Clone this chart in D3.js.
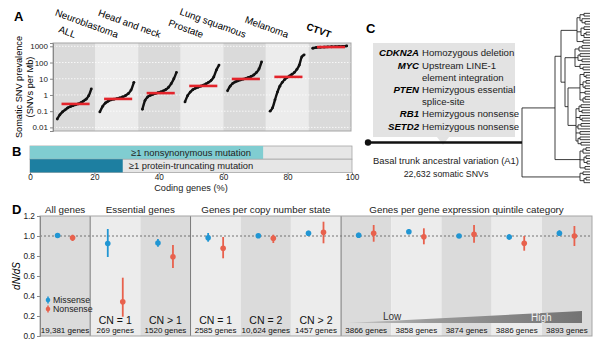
<!DOCTYPE html>
<html>
<head>
<meta charset="utf-8">
<script src="https://cdn.jsdelivr.net/npm/d3@7"></script>
<style>
body { margin: 0; background: #fff; }
svg { font-family: "Liberation Sans", Arial, sans-serif; }
</style>
</head>
<body>
<svg id="fig" width="601" height="346"></svg>
<script>
// ---- panel A: somatic SNV prevalence per sample, sorted within each tumour type
var cancerTypes = ["ALL", "Neuroblastoma", "Head and neck", "Prostate", "Lung squamous", "Melanoma", "CTVT"];
var snvSorted = [
    [0.033, 0.06, 0.09, 0.12, 0.16, 0.19, 0.22, 0.25, 0.28, 0.33, 0.42, 0.55, 0.9, 2.4],
    [0.09, 0.2, 0.32, 0.42, 0.5, 0.55, 0.6, 0.66, 0.75, 0.9, 1.2, 2.0, 6.0],
    [0.13, 0.45, 0.75, 0.95, 1.1, 1.25, 1.4, 1.55, 1.8, 2.2, 3.0, 5.0, 10, 25],
    [0.37, 0.9, 1.5, 2.1, 2.6, 3.0, 3.5, 4.0, 4.8, 6, 8, 13, 35, 70],
    [1.8, 3.5, 5.2, 6.5, 7.5, 8.5, 9.5, 10.5, 12, 14, 17, 24, 40, 110],
    [0.1, 0.16, 0.5, 1.5, 3.5, 6, 9, 12, 15, 19, 25, 38, 70, 220, 300],
    [760, 850, 880, 900, 920, 940, 960, 980, 1000, 1050]
];
var snvMedian = [0.28, 0.57, 1.3, 3.6, 9.7, 13, 900];
var snvTicks = [0.01, 0.1, 1, 10, 100, 1000];

// ---- panel B: share of coding genes hit
var codingLabels = ["\u22651 nonsynonymous mutation", "\u22651 protein-truncating mutation"];
var codingPct = [72.4, 28.8];
var codingTicks = [0, 20, 40, 60, 80, 100];

// ---- panel C: trunk drivers and phylogeny
var driverGenes = ["CDKN2A", "MYC", "PTEN", "RB1", "SETD2"];
var driverEvents = [
    ["Homozygous deletion"],
    ["Upstream LINE-1", "element integration"],
    ["Hemizygous essential", "splice-site"],
    ["Hemizygous nonsense"],
    ["Hemizygous nonsense"]
];
var cladeT  = "(((x,x):4,(x,(x,x):3):2):3,((x,x):3,((x,x):2,x):3):4,(x,x):6)";
var cladeM1 = "(((x,x):3,x):4,((x,x):2,(x,x):4):3,(x,(x,x):3):5)";
var cladeM2 = "((x,(x,x):2):4,((x,x):3,(x,x):2):3,(x,x):5,((x,x):2,x):3)";
var cladeM3 = "(((x,x):2,(x,x):3):3,(x,(x,x):2):4,((x,x):3,x):2,(x,x):4,((x,x):2,(x,x):3):2)";
var cladeL1 = "(((x,x):3,x):3,((x,x):2,(x,x):3):4,(x,x):5)";
var cladeL2 = "((x,x):3,((x,x):2,x):4)";
var treeNewick = "(((" + cladeT + ":16,(" + cladeM1 + ":10,(" + cladeM2 + ":12," + cladeM3 + ":8):3):4):6," +
    cladeL1 + ":25):33," + cladeL2 + ":58)";

// ---- panel D: dN/dS
var dndsGroups = ["All genes", "Essential genes", "Genes per copy number state", "Genes per gene expression quintile category"];
var dndsGroupSize = [1, 2, 3, 5];
var dndsCategory = ["", "CN = 1", "CN > 1", "CN = 1", "CN = 2", "CN > 2", "", "", "", "", ""];
var dndsGenes = ["19,381 genes", "269 genes", "1520 genes", "2585 genes", "10,624 genes", "1457 genes",
    "3866 genes", "3858 genes", "3874 genes", "3886 genes", "3893 genes"];
var missense   = [1.005, 0.925, 0.93, 0.983, 1.003, 1.027, 1.007, 1.043, 1.0, 0.99, 1.027];
var missenseLo = [0.995, 0.79, 0.893, 0.943, 0.99, 1.0, 0.98, 1.02, 0.98, 0.963, 1.0];
var missenseHi = [1.015, 1.07, 0.97, 1.03, 1.017, 1.053, 1.033, 1.07, 1.02, 1.017, 1.057];
var nonsense   = [0.983, 0.343, 0.793, 0.877, 0.977, 1.037, 1.027, 0.993, 1.017, 0.927, 1.0];
var nonsenseLo = [0.95, 0.193, 0.68, 0.777, 0.93, 0.927, 0.943, 0.917, 0.933, 0.853, 0.9];
var nonsenseHi = [1.013, 0.583, 0.91, 0.99, 1.013, 1.143, 1.11, 1.077, 1.11, 1.0, 1.1];
var dndsTicks = [0, 0.2, 0.4, 0.6, 0.8, 1.0, 1.2];

var BLUE = "#2196d3", RED = "#e8614d";
var svg = d3.select("#fig");

function panelLetter(t, x, y) {
    svg.append("text").attr("x", x).attr("y", y).attr("font-size", 13).attr("font-weight", "bold").text(t);
}
function styleAxis(g, size) {
    g.selectAll(".domain").attr("stroke", "#888");
    g.selectAll(".tick line").attr("stroke", "#888");
    g.selectAll(".tick text").attr("fill", "#222").attr("font-size", size);
}

// =================== A ===================
panelLetter("A", 14, 21);
var aTop = 43, aBottom = 131;
var xA = d3.scaleBand().domain(cancerTypes).range([53, 351]);
var yA = d3.scaleLog().domain([0.006, 1600]).range([aBottom, aTop]);
var gA = svg.append("g");

gA.selectAll("rect.band").data(cancerTypes).enter().append("rect")
    .attr("class", "band")
    .attr("x", function(d) { return xA(d); })
    .attr("y", aTop)
    .attr("width", xA.bandwidth())
    .attr("height", aBottom - aTop)
    .attr("fill", function(d, i) { return i % 2 ? "#ececec" : "#dadada"; });

gA.selectAll("line.grid").data(snvTicks).enter().append("line")
    .attr("x1", 53).attr("x2", 351)
    .attr("y1", function(d) { return yA(d); }).attr("y2", function(d) { return yA(d); })
    .attr("stroke", "#fff").attr("stroke-width", 0.8).attr("stroke-dasharray", "1.5,1.5");

var line = d3.line().curve(d3.curveMonotoneX);
snvSorted.forEach(function(vals, i) {
    var x0 = xA(cancerTypes[i]), bw = xA.bandwidth();
    var rank = d3.scaleLinear().domain([0, vals.length - 1]).range([x0 + bw * 0.1, x0 + bw * 0.9]);
    var pts = vals.map(function(v, k) { return [rank(k), yA(v)]; });
    gA.append("path").attr("d", line(pts))
        .attr("fill", "none").attr("stroke", "#111").attr("stroke-width", 2.4);
    gA.selectAll(null).data(pts).enter().append("circle")
        .attr("cx", function(d) { return d[0]; }).attr("cy", function(d) { return d[1]; })
        .attr("r", 1.4).attr("fill", "#111");
    gA.append("line")
        .attr("x1", x0 + bw * 0.2).attr("x2", x0 + bw * 0.86)
        .attr("y1", yA(snvMedian[i])).attr("y2", yA(snvMedian[i]))
        .attr("stroke", "#e3242b").attr("stroke-width", 2.6);
});

gA.append("rect").attr("x", 53).attr("y", aTop).attr("width", 298).attr("height", aBottom - aTop)
    .attr("fill", "none").attr("stroke", "#a5a5a5");

var axA = gA.append("g").attr("transform", "translate(53,0)")
    .call(d3.axisLeft(yA).tickValues(snvTicks).tickFormat(function(d) { return d; }).tickSize(3).tickPadding(2));
styleAxis(axA, 8);

gA.selectAll("text.ctype").data(cancerTypes).enter().append("text")
    .attr("class", "ctype")
    .attr("text-anchor", "end")
    .attr("font-size", 9.8)
    .attr("font-weight", function(d) { return d === "CTVT" ? "bold" : null; })
    .attr("transform", function(d) { return "translate(" + (xA(d) + xA.bandwidth() / 2) + ",38) rotate(20)"; })
    .text(function(d) { return d; });

gA.append("text").attr("transform", "translate(22,87) rotate(-90)")
    .attr("text-anchor", "middle").attr("font-size", 9.2).text("Somatic SNV prevalence");
gA.append("text").attr("transform", "translate(33,87) rotate(-90)")
    .attr("text-anchor", "middle").attr("font-size", 9.2).text("(SNVs per Mb)");

// =================== B ===================
panelLetter("B", 12, 156);
var xB = d3.scaleLinear().domain([0, 100]).range([30, 352]);
var gB = svg.append("g");
var bTop = 146, bH = 13.2;
codingPct.forEach(function(p, i) {
    var y = bTop + i * bH;
    gB.append("rect").attr("x", xB(0)).attr("y", y).attr("width", xB(100) - xB(0)).attr("height", bH)
        .attr("fill", "#e6e6e6").attr("stroke", "#a5a5a5").attr("stroke-width", 0.8);
    gB.append("rect").attr("x", xB(0)).attr("y", y).attr("width", xB(p) - xB(0)).attr("height", bH)
        .attr("fill", i === 0 ? "#80cdd1" : "#1d7fa1");
    gB.append("text").attr("x", xB(50)).attr("y", y + bH / 2 + 3.4)
        .attr("text-anchor", "middle").attr("font-size", 9.4).attr("fill", "#222")
        .text(codingLabels[i]);
});
var axB = gB.append("g").attr("transform", "translate(0," + (bTop + 2 * bH) + ")")
    .call(d3.axisBottom(xB).tickValues(codingTicks).tickSize(2).tickPadding(0));
axB.select(".domain").remove();
styleAxis(axB, 8.2);
gB.append("text").attr("x", xB(50)).attr("y", 191).attr("text-anchor", "middle")
    .attr("font-size", 9.2).attr("fill", "#222").text("Coding genes (%)");

// =================== C ===================
panelLetter("C", 366, 33);
var gC = svg.append("g");
gC.append("path")
    .attr("d", "M373,43H515V137H449L443,145L437,137H373Z")
    .attr("fill", "#e3e3e3");

var lineY = [56, 69, 93, 117, 130];
driverGenes.forEach(function(g, i) {
    gC.append("text").attr("x", 419).attr("y", lineY[i]).attr("text-anchor", "end")
        .attr("font-size", 9.6).attr("font-weight", "bold").attr("font-style", "italic").text(g);
    driverEvents[i].forEach(function(t, k) {
        gC.append("text").attr("x", 422).attr("y", lineY[i] + k * 11.5)
            .attr("font-size", 9.6).attr("fill", "#222").text(t);
    });
});

// phylogeny: parse the newick string, leaves evenly spaced, tips aligned
function parseNewick(s) {
    var i = 0;
    function node() {
        var n = { len: 0 };
        if (s[i] === "(") {
            i++;
            n.children = [node()];
            while (s[i] === ",") { i++; n.children.push(node()); }
            i++;
        } else {
            while (s[i] && ",):".indexOf(s[i]) < 0) i++;
        }
        if (s[i] === ":") {
            i++;
            var j = i;
            while (s[i] && ",)".indexOf(s[i]) < 0) i++;
            n.len = +s.slice(j, i);
        }
        return n;
    }
    return node();
}
var treeRoot = d3.hierarchy(parseNewick(treeNewick));
d3.cluster().size([172, 1]).separation(function() { return 1; })(treeRoot);
var treeX = d3.scaleLinear().domain([0, 68]).range([522, 590]);
treeRoot.eachBefore(function(d) {
    d.dist = d.parent ? d.parent.dist + d.data.len : 0;
    if (!d.children) d.dist = 68;
    d.px = treeX(d.dist);
    d.py = 12 + d.x;
});
var gT = gC.append("g").attr("stroke", "#1a1a1a").attr("stroke-width", 0.85);
treeRoot.descendants().forEach(function(d) {
    if (d.parent) {
        gT.append("line").attr("x1", d.parent.px).attr("x2", d.px).attr("y1", d.py).attr("y2", d.py);
    }
    if (d.children) {
        var c = d.children;
        gT.append("line").attr("x1", d.px).attr("x2", d.px)
            .attr("y1", c[0].py).attr("y2", c[c.length - 1].py);
    }
});
gC.append("line").attr("x1", 368).attr("x2", treeRoot.px)
    .attr("y1", treeRoot.py).attr("y2", treeRoot.py)
    .attr("stroke", "#111").attr("stroke-width", 2.4);
gC.append("circle").attr("cx", 368).attr("cy", treeRoot.py).attr("r", 3.2).attr("fill", "#111");
gC.append("text").attr("x", 446).attr("y", 164).attr("text-anchor", "middle")
    .attr("font-size", 9.4).attr("fill", "#222").text("Basal trunk ancestral variation (A1)");
gC.append("text").attr("x", 446).attr("y", 177).attr("text-anchor", "middle")
    .attr("font-size", 8.8).attr("fill", "#222").text("22,632 somatic SNVs");

// =================== D ===================
panelLetter("D", 12, 214);
var dTop = 216, dBottom = 336, dLeft = 40, dRight = 592;
var cols = d3.range(dndsGenes.length);
var xD = d3.scaleBand().domain(cols).range([dLeft, dRight]);
var yD = d3.scaleLinear().domain([0, 1.2]).range([dBottom, dTop]);
var gD = svg.append("g");

gD.selectAll("rect.col").data(cols).enter().append("rect")
    .attr("x", function(d) { return xD(d); }).attr("y", dTop)
    .attr("width", xD.bandwidth()).attr("height", dBottom - dTop)
    .attr("fill", function(d) { return d % 2 ? "#ececec" : "#dbdbdb"; });

// low -> high expression wedge
var grad = svg.append("defs").append("linearGradient").attr("id", "wedge");
grad.append("stop").attr("offset", "0%").attr("stop-color", "#c8c8c8");
grad.append("stop").attr("offset", "35%").attr("stop-color", "#9a9a9a");
grad.append("stop").attr("offset", "100%").attr("stop-color", "#737373");
var wx0 = xD(6) + 6, wx1 = xD(10) + xD.bandwidth() - 10;
gD.append("path").attr("d", "M" + wx0 + ",323L" + wx1 + ",311L" + wx1 + ",323Z").attr("fill", "url(#wedge)");
gD.append("text").attr("x", 383).attr("y", 320).attr("font-size", 10).attr("fill", "#333").text("Low");
gD.append("text").attr("x", 531).attr("y", 321).attr("font-size", 10).attr("fill", "#f2f2f2").text("High");

gD.append("line").attr("x1", dLeft).attr("x2", dRight).attr("y1", yD(1)).attr("y2", yD(1))
    .attr("stroke", "#555").attr("stroke-width", 0.8).attr("stroke-dasharray", "2,2");

// group separators and titles
var start = 0;
dndsGroups.forEach(function(g, i) {
    var x0 = xD(start), x1 = xD(start + dndsGroupSize[i] - 1) + xD.bandwidth();
    gD.append("text").attr("x", (x0 + x1) / 2).attr("y", 213).attr("text-anchor", "middle")
        .attr("font-size", 9.8).attr("fill", "#222").text(g);
    if (i > 0) {
        gD.append("line").attr("x1", x0).attr("x2", x0).attr("y1", dTop).attr("y2", dBottom)
            .attr("stroke", "#7a7a7a").attr("stroke-width", 1);
    }
    start += dndsGroupSize[i];
});
gD.append("rect").attr("x", dLeft).attr("y", dTop).attr("width", dRight - dLeft).attr("height", dBottom - dTop)
    .attr("fill", "none").attr("stroke", "#a5a5a5");

function drawEstimates(vals, lo, hi, dx, color) {
    var g = gD.append("g");
    g.selectAll("line").data(cols).enter().append("line")
        .attr("x1", function(d) { return xD(d) + xD.bandwidth() / 2 + dx; })
        .attr("x2", function(d) { return xD(d) + xD.bandwidth() / 2 + dx; })
        .attr("y1", function(d) { return yD(lo[d]); })
        .attr("y2", function(d) { return yD(hi[d]); })
        .attr("stroke", color).attr("stroke-width", 1.8);
    g.selectAll("circle").data(cols).enter().append("circle")
        .attr("cx", function(d) { return xD(d) + xD.bandwidth() / 2 + dx; })
        .attr("cy", function(d) { return yD(vals[d]); })
        .attr("r", 2.8).attr("fill", color);
}
drawEstimates(missense, missenseLo, missenseHi, -7.5, BLUE);
drawEstimates(nonsense, nonsenseLo, nonsenseHi, 7.5, RED);

gD.selectAll("text.cat").data(cols).enter().append("text")
    .attr("x", function(d) { return xD(d) + xD.bandwidth() / 2; }).attr("y", 324)
    .attr("text-anchor", "middle").attr("font-size", 10.5).attr("fill", "#111")
    .text(function(d) { return dndsCategory[d]; });
gD.selectAll("text.genes").data(cols).enter().append("text")
    .attr("x", function(d) { return xD(d) + xD.bandwidth() / 2; }).attr("y", 333)
    .attr("text-anchor", "middle").attr("font-size", 8).attr("fill", "#111")
    .text(function(d) { return dndsGenes[d]; });

// legend
[["Missense", BLUE], ["Nonsense", RED]].forEach(function(l, i) {
    var y = 300 + i * 9;
    gD.append("line").attr("x1", 48).attr("x2", 48).attr("y1", y - 3.5).attr("y2", y + 3.5)
        .attr("stroke", l[1]).attr("stroke-width", 1.5);
    gD.append("circle").attr("cx", 48).attr("cy", y).attr("r", 2.3).attr("fill", l[1]);
    gD.append("text").attr("x", 53).attr("y", y + 3).attr("font-size", 8.8).attr("fill", "#222").text(l[0]);
});

var axD = gD.append("g").attr("transform", "translate(" + dLeft + ",0)")
    .call(d3.axisLeft(yD).tickValues(dndsTicks).tickFormat(d3.format(".1f")).tickSize(3).tickPadding(2));
styleAxis(axD, 8.3);
gD.append("text").attr("transform", "translate(20," + yD(0.6) + ") rotate(-90)")
    .attr("text-anchor", "middle").attr("font-size", 10).attr("font-style", "italic").text("dN/dS");
</script>
</body>
</html>
